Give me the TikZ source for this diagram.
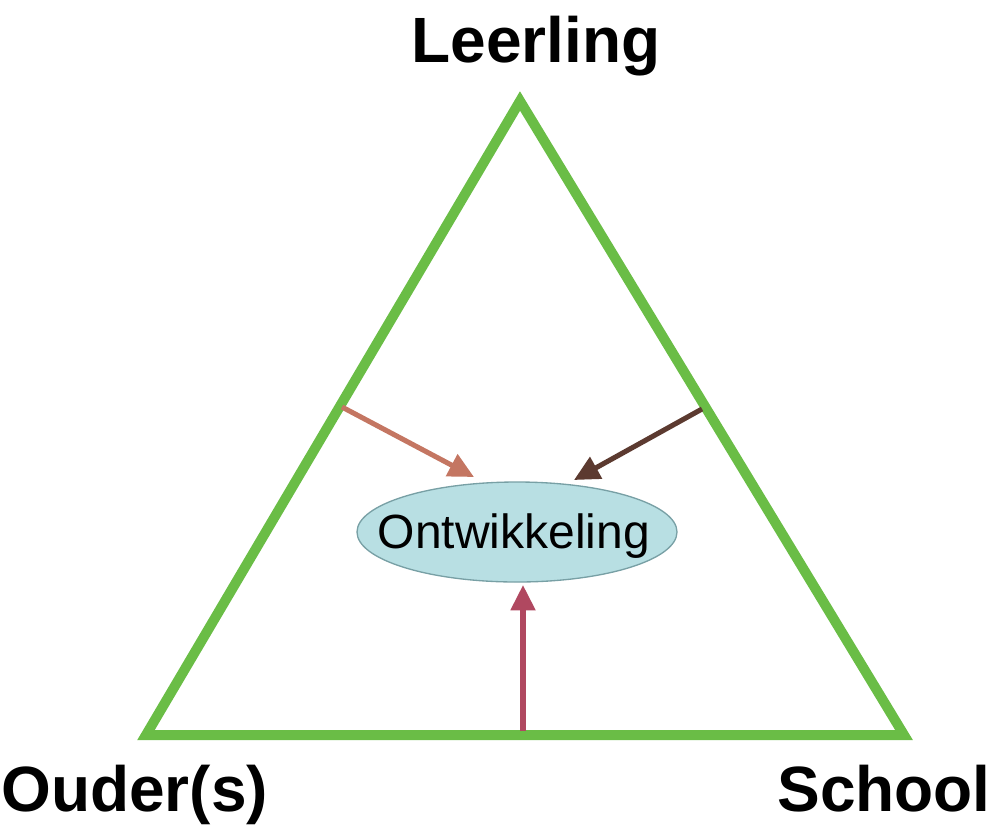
\documentclass[tikz,border=0pt]{standalone}
\usepackage{fontspec}
\setmainfont{Liberation Sans}
\usetikzlibrary{arrows.meta,shapes.geometric}
\definecolor{trigreen}{RGB}{106,189,70}
\definecolor{ellfill}{RGB}{184,223,227}
\definecolor{elldraw}{RGB}{120,160,165}
\definecolor{arrA}{RGB}{196,118,98}
\definecolor{arrB}{RGB}{92,58,48}
\definecolor{arrC}{RGB}{176,72,96}
\tikzset{
  lbl/.style={font=\bfseries\fontsize{48}{52}\selectfont, inner sep=0pt},
  infl/.style={line width=3.8pt, -{Triangle[length=19pt,width=18pt]}},
}
\begin{document}
\begin{tikzpicture}[x=0.75pt,y=-0.75pt]
\useasboundingbox (0,0) rectangle (996,826);
\coordinate (apex) at (520,101);
\coordinate (bl) at (146,735);
\coordinate (br) at (904,735);
\draw[trigreen, line width=7.5pt, line join=miter] (apex) -- (bl) -- (br) -- cycle;
\node[ellipse, draw=elldraw, line width=1pt, fill=ellfill, minimum width=240pt, minimum height=75pt, inner sep=0pt] (dev) at (517,532) {};
\node[font=\fontsize{36}{40}\selectfont, anchor=base, inner sep=0pt] (devt) at (514,548) {Ontwikkeling};
\node[lbl, anchor=base] (leer) at (536,62) {Leerling};
\node[lbl, anchor=base west] (oud) at (1,811) {Ouder(s)};
\node[lbl, anchor=base east] (sch) at (991,811) {School};
\coordinate (sa) at (342,407);
\coordinate (ta) at (474,477);
\coordinate (sb) at (702,409);
\coordinate (tb) at (574,480);
\coordinate (sc) at (523,731);
\coordinate (tc) at (523,585);
\draw[infl, arrA] (sa) -- (ta);
\draw[infl, arrB] (sb) -- (tb);
\draw[infl, arrC] (sc) -- (tc);
\end{tikzpicture}
\end{document}
